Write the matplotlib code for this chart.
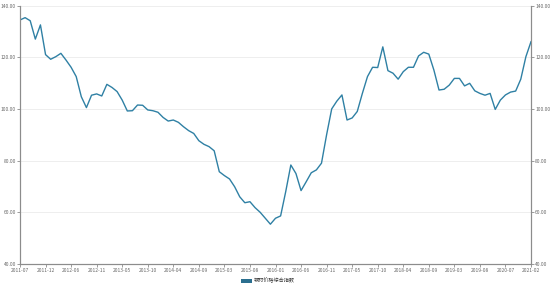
import matplotlib
matplotlib.use('Agg')
import matplotlib.pyplot as plt
from matplotlib.patches import Patch

plt.rcParams['font.family'] = ['Noto Sans CJK SC', 'DejaVu Sans']

# Month categories (January mostly absent in the source series)
months = [
    '2011-07', '2011-08', '2011-09', '2011-10', '2011-11', '2011-12',
    '2012-02', '2012-03', '2012-04', '2012-05', '2012-06', '2012-07', '2012-08', '2012-09', '2012-10', '2012-11', '2012-12',
    '2013-02', '2013-03', '2013-04', '2013-05', '2013-06', '2013-07', '2013-08', '2013-09', '2013-10', '2013-11', '2013-12',
    '2014-02', '2014-03', '2014-04', '2014-05', '2014-06', '2014-07', '2014-08', '2014-09', '2014-10', '2014-11', '2014-12',
    '2015-02', '2015-03', '2015-04', '2015-05', '2015-06', '2015-07', '2015-08', '2015-09', '2015-10', '2015-11', '2015-12',
    '2016-01', '2016-02', '2016-03', '2016-04', '2016-05', '2016-06', '2016-07', '2016-08', '2016-09', '2016-10', '2016-11', '2016-12',
    '2017-02', '2017-03', '2017-04', '2017-05', '2017-06', '2017-07', '2017-08', '2017-09', '2017-10', '2017-11', '2017-12',
    '2018-02', '2018-03', '2018-04', '2018-05', '2018-06', '2018-07', '2018-08', '2018-09', '2018-10', '2018-11', '2018-12',
    '2019-02', '2019-03', '2019-04', '2019-05', '2019-06', '2019-07', '2019-08', '2019-10', '2019-12',
    '2020-03', '2020-05', '2020-07', '2020-08', '2020-09', '2020-10', '2020-12', '2021-02',
]

index_values = [
    134.4, 135.3, 134.1, 127.0, 132.5, 121.0, 119.2, 120.2, 121.5, 118.9,
    116.1, 112.5, 104.7, 100.5, 105.3, 105.8, 105.0, 109.5, 108.3, 106.7,
    103.4, 99.2, 99.3, 101.5, 101.4, 99.6, 99.3, 98.7, 96.7, 95.3,
    95.7, 94.8, 93.1, 91.6, 90.5, 87.7, 86.3, 85.4, 83.8, 75.7,
    74.2, 72.9, 69.9, 66.0, 63.7, 64.1, 61.8, 60.0, 57.7, 55.4,
    57.7, 58.6, 68.0, 78.3, 75.0, 68.4, 71.8, 75.3, 76.4, 79.0,
    90.0, 100.0, 103.0, 105.4, 95.7, 96.5, 99.0, 106.0, 112.5, 116.1,
    116.0, 124.0, 114.8, 113.8, 111.5, 114.4, 116.1, 116.1, 120.5, 121.9,
    121.2, 115.0, 107.3, 107.6, 109.2, 111.8, 111.8, 108.9, 109.9, 107.0,
    106.0, 105.3, 106.0, 99.8, 103.4, 105.4, 106.5, 106.9, 111.5, 120.2,
    126.0,
]

series_name = '钢材价格综合指数'
y_ticks = [40, 60, 80, 100, 120, 140]

line_color = '#2f80a4'
axis_color = '#8c8c8c'
label_color = '#666666'


def main():
    fig = plt.figure(figsize=(5.54, 2.86), dpi=100)
    ax = fig.add_axes([20 / 554, 22 / 286, 511 / 554, 258.5 / 286])

    x = list(range(len(months)))
    ax.plot(x, index_values, color=line_color, lw=1.0, zorder=3)

    ax.set_xlim(0, len(months) - 1)
    ax.set_ylim(40, 140)

    # x ticks every 5th category
    tick_pos = x[::5]
    ax.set_xticks(tick_pos)
    ax.set_xticklabels([months[i] for i in tick_pos])

    ax.set_yticks(y_ticks)
    ax.set_yticklabels(['%.2f' % v for v in y_ticks])
    ax.grid(axis='y', color='#ebebeb', lw=0.6)
    ax.set_axisbelow(True)

    right = ax.twinx()
    right.set_ylim(40, 140)
    right.set_yticks(y_ticks)
    right.set_yticklabels(['%.2f' % v for v in y_ticks])

    for a in (ax, right):
        a.spines['top'].set_visible(False)
        for s in ('left', 'right', 'bottom'):
            a.spines[s].set_color(axis_color)
            a.spines[s].set_linewidth(0.8)
        a.tick_params(axis='both', labelsize=3.5, colors=axis_color,
                      labelcolor=label_color, length=2, width=0.6, pad=1)

    handle = Patch(facecolor='#2b6f8f', edgecolor='none')
    fig.legend([handle], [series_name], loc='center',
               bbox_to_anchor=(0.484, 0.018), frameon=False, fontsize=3.7,
               handlelength=2.0, handleheight=0.9, handletextpad=0.4,
               labelcolor='#333333')

    fig.savefig('out.png', dpi=100)


if __name__ == '__main__':
    main()
